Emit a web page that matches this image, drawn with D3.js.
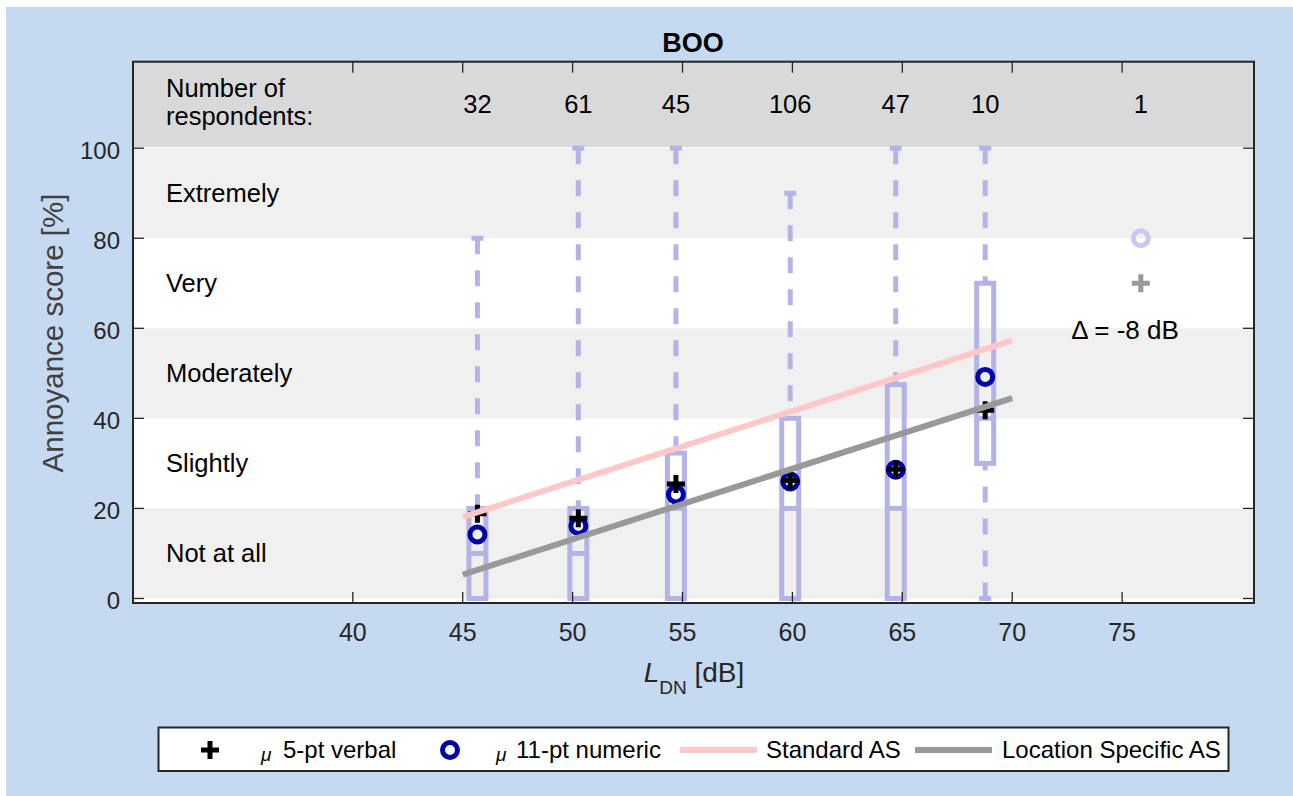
<!DOCTYPE html>
<html><head><meta charset="utf-8">
<script src="https://cdn.jsdelivr.net/npm/d3@7"></script>
<style>
html,body{margin:0;padding:0;background:#fff;}
svg text{font-family:"Liberation Sans",Arial,Helvetica,sans-serif;}
</style></head>
<body>
<svg id="chart" width="1293" height="796"></svg>
<script>
// ---- data ----
const levels = [45.67, 50.26, 54.7, 59.9, 64.7, 68.77];
const respondents = [32, 61, 45, 106, 47, 10];
const whiskerLow = [0, 0, 0, 0, 0, 0];
const q1 = [0, 0, 0, 0, 0, 30];
const medians = [10, 10, 20, 20, 20, 40];
const q3 = [20, 20, 32.3, 40, 47.5, 70];
const whiskerHigh = [80, 100, 100, 90, 100, 100];
const mean5pt = [18.8, 17.8, 25.4, 26.2, 28.7, 41.8];
const mean11pt = [14.2, 16.1, 23.1, 26.0, 28.6, 49.2];
const outlierLevel = [75.85];
const outlierRespondents = [1];
const outlierMean11 = [80];
const outlierMean5 = [70];
const standardAS = [[45, 18.1], [70, 57.3]];
const locationAS = [[45, 5.3], [70, 44.5]];
const xTicks = [40, 45, 50, 55, 60, 65, 70, 75];
const yTicks = [0, 20, 40, 60, 80, 100];
const categories = ["Not at all", "Slightly", "Moderately", "Very", "Extremely"];
const title = "BOO";
const deltaLabel = "\u0394 = -8 dB";
const legendLabels = ["5-pt verbal", "11-pt numeric", "Standard AS", "Location Specific AS"];

// ---- layout ----
const svg = d3.select("#chart");
const L = 133, R = 1254, T = 61.7, B = 603;
const x = d3.scaleLinear().domain([30, 81]).range([L, R]);
const y = d3.scaleLinear().domain([-1, 119.2]).range([B, T]);
const boxColor = "#b3b3e8", ink = "#262626";

svg.append("rect").attr("x", 6).attr("y", 7).attr("width", 1287).attr("height", 789).attr("fill", "#c5d9f0");
svg.append("rect").attr("x", L).attr("y", T).attr("width", R - L).attr("height", B - T).attr("fill", "#fff");

// bands
categories.forEach((c, i) => {
  if (i % 2 === 0) {
    svg.append("rect").attr("x", L).attr("width", R - L)
      .attr("y", y((i + 1) * 20)).attr("height", y(i * 20) - y((i + 1) * 20))
      .attr("fill", "#f0f0f0");
  }
  svg.append("text").attr("x", 166).attr("y", y(i * 20 + 10) + 9)
    .attr("font-size", 25.5).attr("fill", "#000").text(c);
});
svg.append("rect").attr("x", L).attr("width", R - L).attr("y", T).attr("height", y(100) - T - 1.2).attr("fill", "#d9d9d9");

// header text
svg.append("text").attr("x", 166).attr("y", 97).attr("font-size", 25.5).text("Number of");
svg.append("text").attr("x", 166).attr("y", 125).attr("font-size", 25.5).text("respondents:");
svg.selectAll(".cnt").data(levels.map((l, i) => [l, respondents[i]]).concat(outlierLevel.map((l, i) => [l, outlierRespondents[i]])))
  .enter().append("text").attr("x", d => x(d[0])).attr("y", 113).attr("text-anchor", "middle")
  .attr("font-size", 25.5).attr("fill", "#000").text(d => d[1]);

// boxes
const bw = 17, cw = 12;
const dash = "16,16";
levels.forEach((l, i) => {
  const cx = x(l);
  const g = svg.append("g").attr("stroke", boxColor).attr("stroke-width", 5).attr("fill", "none");
  g.append("line").attr("x1", cx).attr("x2", cx).attr("y1", y(whiskerHigh[i])).attr("y2", y(q3[i])).attr("stroke-dasharray", dash);
  g.append("line").attr("x1", cx - cw / 2).attr("x2", cx + cw / 2).attr("y1", y(whiskerHigh[i])).attr("y2", y(whiskerHigh[i]));
  if (q1[i] > whiskerLow[i]) {
    g.append("line").attr("x1", cx).attr("x2", cx).attr("y1", y(whiskerLow[i])).attr("y2", y(q1[i])).attr("stroke-dasharray", dash);
  }
  g.append("line").attr("x1", cx - cw / 2).attr("x2", cx + cw / 2).attr("y1", y(whiskerLow[i])).attr("y2", y(whiskerLow[i]));
  g.append("rect").attr("x", cx - bw / 2).attr("width", bw).attr("y", y(q3[i])).attr("height", y(q1[i]) - y(q3[i]));
  g.append("line").attr("x1", cx - bw / 2).attr("x2", cx + bw / 2).attr("y1", y(medians[i])).attr("y2", y(medians[i]));
});

// markers
function plus(sel, cx, cy, color) {
  sel.append("path").attr("d", `M${cx - 9},${cy}H${cx + 9}M${cx},${cy - 9}V${cy + 9}`)
    .attr("stroke", color).attr("stroke-width", 5).attr("fill", "none");
}
levels.forEach((l, i) => {
  svg.append("circle").attr("cx", x(l)).attr("cy", y(mean11pt[i])).attr("r", 7.5)
    .attr("fill", "none").attr("stroke", "#0000a8").attr("stroke-width", 5);
});
levels.forEach((l, i) => plus(svg, x(l), y(mean5pt[i]), "#000"));

// regression lines
const line = d3.line().x(d => x(d[0])).y(d => y(d[1]));
svg.append("path").attr("d", line(standardAS)).attr("stroke", "#ffc8c8").attr("stroke-width", 6).attr("fill", "none");
svg.append("path").attr("d", line(locationAS)).attr("stroke", "#999999").attr("stroke-width", 6).attr("fill", "none");

// outlier group
outlierLevel.forEach((l, i) => {
  svg.append("circle").attr("cx", x(l)).attr("cy", y(outlierMean11[i])).attr("r", 7.5)
    .attr("fill", "none").attr("stroke", "#c8c8f0").attr("stroke-width", 5);
  plus(svg, x(l), y(outlierMean5[i]), "#999999");
});
svg.append("text").attr("x", 1125).attr("y", 339).attr("text-anchor", "middle").attr("font-size", 26).attr("fill", "#000").text(deltaLabel);

// axes frame + ticks (inward)
const axG = svg.append("g").attr("stroke", ink).attr("stroke-width", 1.3);
xTicks.forEach(t => {
  axG.append("line").attr("x1", x(t)).attr("x2", x(t)).attr("y1", B).attr("y2", B - 11);
  axG.append("line").attr("x1", x(t)).attr("x2", x(t)).attr("y1", T).attr("y2", T + 11);
});
yTicks.forEach(t => {
  axG.append("line").attr("x1", L).attr("x2", L + 11).attr("y1", y(t)).attr("y2", y(t));
  axG.append("line").attr("x1", R).attr("x2", R - 11).attr("y1", y(t)).attr("y2", y(t));
});
svg.append("rect").attr("x", L).attr("y", T).attr("width", R - L).attr("height", B - T)
  .attr("fill", "none").attr("stroke", ink).attr("stroke-width", 2);

svg.selectAll(".xt").data(xTicks).enter().append("text").attr("x", d => x(d)).attr("y", 641)
  .attr("text-anchor", "middle").attr("font-size", 25).attr("fill", ink).text(d => d);
svg.selectAll(".yt").data(yTicks).enter().append("text").attr("x", 120).attr("y", d => y(d) + 11)
  .attr("text-anchor", "end").attr("font-size", 24).attr("fill", ink).text(d => d);

// title
svg.append("text").attr("x", 693).attr("y", 52).attr("text-anchor", "middle").attr("font-size", 27)
  .attr("font-weight", "bold").attr("fill", "#000").text(title);

// axis labels
svg.append("text").attr("transform", "translate(63,333) rotate(-90)").attr("text-anchor", "middle")
  .attr("font-size", 29.5).attr("fill", "#404040").text("Annoyance score [%]");
const xl = svg.append("text").attr("x", 694).attr("y", 682).attr("text-anchor", "middle").attr("font-size", 28).attr("fill", ink);
xl.append("tspan").attr("font-style", "italic").text("L");
xl.append("tspan").attr("font-size", 19).attr("dy", 12).text("DN");
xl.append("tspan").attr("dy", -12).text(" [dB]");

// legend
svg.append("rect").attr("x", 158.5).attr("y", 727.5).attr("width", 1070).attr("height", 43.5)
  .attr("fill", "#fff").attr("stroke", ink).attr("stroke-width", 2);
const ly = 750;
plus(svg, 210, ly, "#000");
svg.append("circle").attr("cx", 450).attr("cy", ly).attr("r", 7.5).attr("fill", "none").attr("stroke", "#0000a8").attr("stroke-width", 5);
svg.append("line").attr("x1", 680).attr("x2", 757).attr("y1", ly).attr("y2", ly).attr("stroke", "#ffc8c8").attr("stroke-width", 6);
svg.append("line").attr("x1", 915).attr("x2", 992).attr("y1", ly).attr("y2", ly).attr("stroke", "#999999").attr("stroke-width", 6);
const muX = [261, 496];
const legendX = [283, 516, 766, 1002];
muX.forEach(mx => {
  svg.append("text").attr("x", mx).attr("y", 761).attr("font-size", 19).attr("font-style", "italic").attr("fill", "#000").text("\u03bc");
});
legendLabels.forEach((lab, i) => {
  svg.append("text").attr("x", legendX[i]).attr("y", 758).attr("font-size", 24).attr("fill", "#000").text(lab);
});
</script>
</body></html>
